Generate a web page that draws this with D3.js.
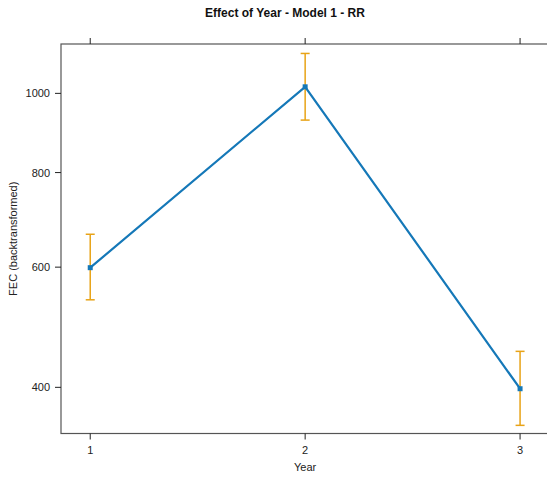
<!DOCTYPE html>
<html><head><meta charset="utf-8">
<script src="https://cdnjs.cloudflare.com/ajax/libs/d3/7.8.5/d3.min.js"></script>
<style>body{margin:0;background:#fff}svg{display:block;font-family:"Liberation Sans",Arial,sans-serif}</style>
</head><body><svg id="c" width="547" height="477"></svg>
<script>
const years = [1, 2, 3];
const fit = [599, 1018, 398];
const lower = [540, 929, 348];
const upper = [665, 1113, 454];
const yTicks = [400, 600, 800, 1000];
const xTicks = [1, 2, 3];

const svg = d3.select("#c");
const L = 61, R = 549.3, T = 44, B = 433.5;
const x = d3.scaleLinear().domain([0.864, 3.136]).range([L, R]);
const y = d3.scalePow().exponent(0.3).domain([337.5, 1141]).range([B, T]);

const frame = "#555";
svg.append("rect").attr("x", L).attr("y", T).attr("width", R - L).attr("height", B - T)
  .attr("fill", "none").attr("stroke", frame).attr("stroke-width", 1.2);

// ticks
const gAxis = svg.append("g").attr("stroke", "#222").attr("stroke-width", 1);
xTicks.forEach(t => {
  gAxis.append("line").attr("x1", x(t)).attr("x2", x(t)).attr("y1", B).attr("y2", B + 6);
  gAxis.append("line").attr("x1", x(t)).attr("x2", x(t)).attr("y1", T).attr("y2", T - 6);
});
yTicks.forEach(t => {
  gAxis.append("line").attr("x1", L).attr("x2", L - 6).attr("y1", y(t)).attr("y2", y(t));
});

svg.append("g").selectAll("text").data(xTicks).join("text")
  .attr("x", d => x(d)).attr("y", 454).attr("text-anchor", "middle")
  .attr("font-size", 11).attr("fill", "#222").text(d => d);
svg.append("g").selectAll("text").data(yTicks).join("text")
  .attr("x", 50).attr("y", d => y(d) + 4).attr("text-anchor", "end")
  .attr("font-size", 11).attr("fill", "#222").text(d => d);

svg.append("text").attr("x", x(2)).attr("y", 471).attr("text-anchor", "middle")
  .attr("font-size", 11).attr("fill", "#222").text("Year");
svg.append("text").attr("transform", `translate(17,${(T + B) / 2}) rotate(-90)`)
  .attr("text-anchor", "middle").attr("font-size", 11).attr("fill", "#222")
  .text("FEC (backtransformed)");
svg.append("text").attr("x", 285).attr("y", 17).attr("text-anchor", "middle")
  .attr("font-size", 12).attr("font-weight", "bold").attr("fill", "#111")
  .text("Effect of Year - Model 1 - RR");

// error bars
const orange = "#E8A317";
const eb = svg.append("g").attr("stroke", orange).attr("stroke-width", 1.5);
years.forEach((yr, i) => {
  eb.append("line").attr("x1", x(yr)).attr("x2", x(yr)).attr("y1", y(lower[i])).attr("y2", y(upper[i]));
  eb.append("line").attr("x1", x(yr) - 4.5).attr("x2", x(yr) + 4.5).attr("y1", y(lower[i])).attr("y2", y(lower[i]));
  eb.append("line").attr("x1", x(yr) - 4.5).attr("x2", x(yr) + 4.5).attr("y1", y(upper[i])).attr("y2", y(upper[i]));
});

const blue = "#1578B8";
svg.append("path").datum(years.map((yr, i) => [yr, fit[i]]))
  .attr("d", d3.line().x(d => x(d[0])).y(d => y(d[1])))
  .attr("fill", "none").attr("stroke", blue).attr("stroke-width", 2.2);
svg.append("g").selectAll("rect").data(years).join("rect")
  .attr("x", d => x(d) - 2.5).attr("y", (d, i) => y(fit[i]) - 2.5)
  .attr("width", 5).attr("height", 5).attr("fill", blue);
</script></body></html>
